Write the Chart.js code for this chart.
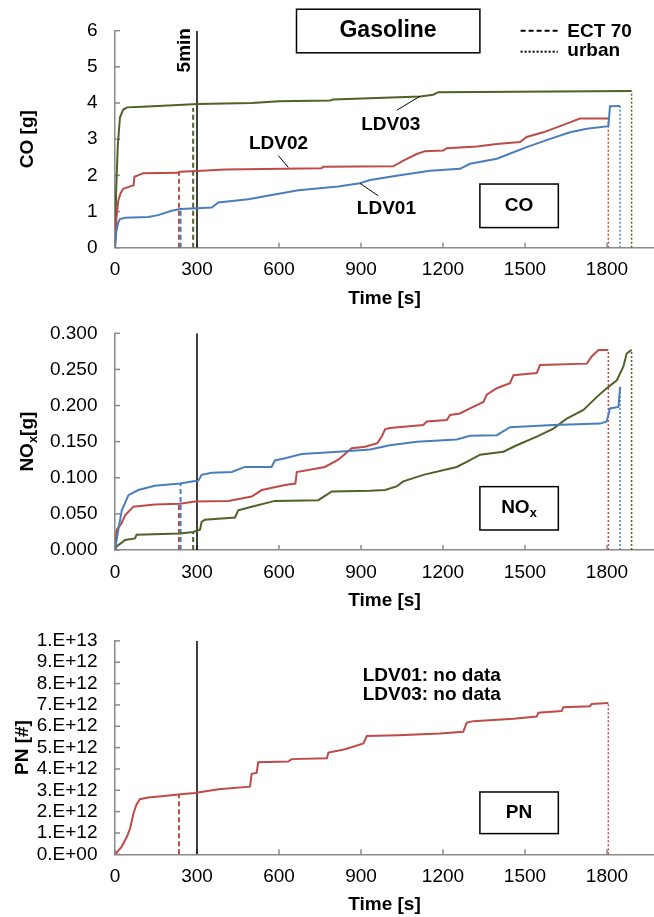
<!DOCTYPE html>
<html><head><meta charset="utf-8">
<script src="https://cdn.jsdelivr.net/npm/chart.js@4"></script>
<style>
html,body{margin:0;padding:0;background:#fff;}
#wrap{position:relative;width:654px;height:917px;overflow:hidden;background:#fff;}
canvas{position:absolute;left:0;}
</style></head><body>
<div id="wrap">
<canvas id="c1" width="654" height="310" style="top:0px"></canvas>
<canvas id="c2" width="654" height="311" style="top:302px"></canvas>
<canvas id="c3" width="654" height="305" style="top:612px"></canvas>
</div>
<script>
// ---------------- data ----------------
const vehicles = ['LDV01', 'LDV02', 'LDV03'];
const timeTicks = [0, 300, 600, 900, 1200, 1500, 1800];
const coTicks = [0, 1, 2, 3, 4, 5, 6];
const noxTicks = [0, 0.05, 0.10, 0.15, 0.20, 0.25, 0.30];
const pnTicks = [0, 1e12, 2e12, 3e12, 4e12, 5e12, 6e12, 7e12, 8e12, 9e12, 1e13];
const fiveMin = 300;
const ectTime = [240, 234, 286];
const coAtEct = [1.07, 2.10, 3.86];
const noxAtEct = [0.092, 0.064, 0.024];
const pnAtEct = [null, 2.8e12, null];

const coLDV01 = [[0,0],[5,0.45],[12,0.7],[18,0.79],[37,0.83],[122,0.85],[158,0.9],[207,1.02],[238,1.07],[300,1.09],[354,1.11],[378,1.25],[488,1.34],[573,1.46],[671,1.59],[817,1.69],[896,1.78],[933,1.87],[1030,1.99],[1152,2.13],[1262,2.18],[1299,2.32],[1397,2.46],[1458,2.64],[1506,2.78],[1592,3.01],[1665,3.19],[1726,3.29],[1805,3.36],[1811,3.91],[1848,3.92]];
const coLDV02 = [[0,0],[5,0.8],[12,1.3],[20,1.5],[30,1.63],[61,1.71],[68,1.72],[71,1.96],[104,2.06],[230,2.07],[238,2.1],[300,2.12],[402,2.16],[756,2.2],[761,2.24],[1018,2.25],[1055,2.41],[1104,2.59],[1134,2.67],[1201,2.69],[1214,2.75],[1324,2.80],[1397,2.87],[1482,2.92],[1506,3.06],[1567,3.19],[1653,3.43],[1701,3.57],[1805,3.57]];
const coLDV03 = [[0,0],[4,1.5],[10,2.8],[18,3.6],[30,3.82],[45,3.88],[100,3.9],[250,3.95],[300,3.97],[500,4.0],[600,4.05],[787,4.07],[798,4.1],[1116,4.18],[1164,4.23],[1183,4.30],[1890,4.33]];

const noxLDV01 = [[0,0],[12,0.028],[25,0.055],[49,0.076],[85,0.083],[146,0.089],[238,0.092],[293,0.0955],[305,0.096],[317,0.104],[354,0.107],[427,0.108],[476,0.115],[573,0.115],[585,0.124],[622,0.127],[683,0.133],[817,0.136],[933,0.139],[1006,0.145],[1104,0.150],[1250,0.153],[1299,0.158],[1397,0.159],[1445,0.170],[1604,0.173],[1775,0.175],[1799,0.178],[1811,0.196],[1842,0.198],[1848,0.226]];
const noxLDV02 = [[0,0],[6,0.028],[24,0.037],[37,0.048],[67,0.060],[146,0.063],[238,0.064],[293,0.067],[415,0.068],[500,0.074],[537,0.083],[622,0.09],[660,0.092],[665,0.108],[768,0.115],[817,0.125],[866,0.141],[915,0.143],[960,0.148],[976,0.157],[988,0.167],[1006,0.169],[1128,0.173],[1141,0.178],[1214,0.180],[1226,0.187],[1262,0.189],[1299,0.196],[1348,0.205],[1360,0.215],[1397,0.224],[1445,0.231],[1458,0.242],[1543,0.245],[1555,0.256],[1726,0.258],[1744,0.268],[1769,0.277],[1805,0.277]];
const noxLDV03 = [[0,0],[6,0.005],[37,0.014],[73,0.016],[79,0.021],[238,0.023],[286,0.025],[311,0.028],[317,0.039],[329,0.042],[439,0.045],[451,0.055],[500,0.06],[585,0.068],[744,0.069],[793,0.081],[933,0.082],[988,0.083],[1030,0.088],[1055,0.095],[1128,0.104],[1250,0.115],[1287,0.122],[1336,0.132],[1421,0.136],[1470,0.145],[1543,0.157],[1604,0.168],[1653,0.182],[1714,0.194],[1763,0.212],[1799,0.224],[1836,0.235],[1860,0.254],[1872,0.272],[1890,0.277]];

const pnLDV02 = [[0,0],[24,0.35e12],[43,0.81e12],[55,1.2e12],[67,1.89e12],[79,2.35e12],[91,2.58e12],[122,2.66e12],[207,2.77e12],[238,2.81e12],[293,2.87e12],[378,3.05e12],[494,3.17e12],[500,3.77e12],[518,3.81e12],[524,4.31e12],[634,4.35e12],[646,4.46e12],[775,4.50e12],[781,4.77e12],[842,4.92e12],[909,5.2e12],[921,5.54e12],[1037,5.58e12],[1189,5.66e12],[1274,5.74e12],[1287,6.17e12],[1311,6.24e12],[1458,6.35e12],[1543,6.46e12],[1549,6.63e12],[1634,6.71e12],[1640,6.89e12],[1738,6.94e12],[1744,7.04e12],[1805,7.09e12]];

// ---------------- styles ----------------
const FONT = '"Liberation Sans", Arial, sans-serif';
const AXIS = '#8a8a8a';
const COLORS = ['#4A7EBB', '#BE4B48', '#4F6228'];
const X_MAX = 1972;
Chart.defaults.font.family = FONT;
Chart.defaults.color = '#000';

function drawRich(ctx, parts, x, y, size) {
  const widths = parts.map(p => { ctx.font = 'bold ' + (p.sub ? size * 0.68 : size) + 'px ' + FONT; return ctx.measureText(p.t).width; });
  const total = widths.reduce((a, b) => a + b, 0);
  let cx = x - total / 2;
  parts.forEach((p, i) => {
    ctx.font = 'bold ' + (p.sub ? size * 0.68 : size) + 'px ' + FONT;
    ctx.textAlign = 'left'; ctx.textBaseline = 'middle';
    ctx.fillText(p.t, cx, y + (p.sub ? size * 0.3 : 0));
    cx += widths[i];
  });
}

const annot = {
  id: 'annot',
  beforeDatasetsDraw(chart) {
    const ctx = chart.ctx, xs = chart.scales.x, ys = chart.scales.y, ca = chart.chartArea;
    ctx.save();
    ctx.strokeStyle = AXIS; ctx.lineWidth = 1.5;
    xs.ticks.forEach(t => { const p = xs.getPixelForValue(t.value); ctx.beginPath(); ctx.moveTo(p, ca.bottom); ctx.lineTo(p, ca.bottom - 5); ctx.stroke(); });
    ys.ticks.forEach(t => { const p = ys.getPixelForValue(t.value); ctx.beginPath(); ctx.moveTo(ca.left, p); ctx.lineTo(ca.left + 5, p); ctx.stroke(); });
    ctx.restore();
  },
  afterDraw(chart, args, opts) {
    const ctx = chart.ctx, xs = chart.scales.x, ys = chart.scales.y, ca = chart.chartArea;
    const X = v => xs.getPixelForValue(v), Y = v => ys.getPixelForValue(v);
    ctx.save();
    ctx.fillStyle = '#000';
    (opts.items || []).forEach(it => {
      const size = it.size || 19;
      if (it.type === 'box') {
        ctx.strokeStyle = '#000'; ctx.lineWidth = 1.5; ctx.setLineDash([]);
        ctx.strokeRect(X(it.x0), Y(it.y1), X(it.x1) - X(it.x0), Y(it.y0) - Y(it.y1));
      } else if (it.type === 'line') {
        ctx.strokeStyle = it.color || '#000'; ctx.lineWidth = it.width || 1; ctx.setLineDash(it.dash || []);
        ctx.beginPath(); ctx.moveTo(X(it.x0), Y(it.y0)); ctx.lineTo(X(it.x1), Y(it.y1)); ctx.stroke();
        ctx.setLineDash([]);
      } else if (it.type === 'text') {
        ctx.font = 'bold ' + size + 'px ' + FONT;
        ctx.textBaseline = 'middle';
        if (it.rotate) {
          ctx.save(); ctx.translate(X(it.x), Y(it.y)); ctx.rotate(-Math.PI / 2);
          ctx.textAlign = 'center'; ctx.fillText(it.text, 0, 0); ctx.restore();
        } else {
          ctx.textAlign = it.align || 'center';
          ctx.fillText(it.text, X(it.x), Y(it.y));
        }
      } else if (it.type === 'rich') {
        drawRich(ctx, it.parts, X(it.x), Y(it.y), size);
      } else if (it.type === 'yrich') {
        ctx.save(); ctx.translate(it.px, (ca.top + ca.bottom) / 2); ctx.rotate(-Math.PI / 2);
        drawRich(ctx, it.parts, 0, 0, size); ctx.restore();
      }
    });
    ctx.restore();
  }
};

function seriesDS(pts, i) {
  return { label: vehicles[i], data: pts.map(p => ({ x: p[0], y: p[1] })), borderColor: COLORS[i], borderWidth: 2, pointRadius: 0, fill: false, order: 1 };
}
function vline(t, v, color, dash, width, label) {
  return { label, data: [{ x: t, y: 0 }, { x: t, y: v }], borderColor: color, borderWidth: width, borderDash: dash, pointRadius: 0, fill: false, order: 2 };
}
function buildDatasets(series, atEct, yMax) {
  const ds = [vline(fiveMin, yMax, '#000', [], 1.5, '5min')];
  series.forEach((s, i) => { if (s) ds.push(seriesDS(s, i)); });
  series.forEach((s, i) => { if (s && atEct[i] != null) ds.push(vline(ectTime[i], atEct[i], COLORS[i], [5, 3], 2, 'ECT 70 ' + vehicles[i])); });
  series.forEach((s, i) => { if (s) { const last = s[s.length - 1]; ds.push(vline(last[0], last[1], COLORS[i], [2, 2], 1.5, 'urban ' + vehicles[i])); } });
  return ds;
}

function makeChart(id, cfg) {
  return new Chart(document.getElementById(id), {
    type: 'line',
    data: { datasets: cfg.datasets },
    options: {
      responsive: false, animation: false, devicePixelRatio: 1,
      layout: { padding: { top: cfg.padTop, bottom: cfg.padBottom, left: 0, right: 0 } },
      plugins: { legend: { display: false }, tooltip: { enabled: false }, annot: { items: cfg.items } },
      elements: { point: { radius: 0 }, line: { tension: 0 } },
      scales: {
        x: {
          type: 'linear', min: 0, max: X_MAX,
          afterBuildTicks: s => { s.ticks = timeTicks.map(v => ({ value: v })); },
          grid: { display: false, drawTicks: false },
          border: { display: true, color: AXIS, width: 1.5 },
          ticks: { padding: 11, font: { size: 19 }, color: '#000', maxRotation: 0, autoSkip: false, callback: v => String(v) },
          title: { display: true, text: 'Time [s]', font: { size: 19, weight: 'bold' }, padding: { top: 0, bottom: 0 }, color: '#000' },
          afterFit: s => { s.height = 62; }
        },
        y: {
          type: 'linear', min: 0, max: cfg.yMax,
          afterBuildTicks: s => { s.ticks = cfg.yTicks.map(v => ({ value: v })); },
          grid: { display: false, drawTicks: false },
          border: { display: true, color: AXIS, width: 1.5 },
          ticks: { padding: 17.5, font: { size: 19 }, color: '#000', autoSkip: false, callback: cfg.fmt },
          title: cfg.yTitle,
          afterFit: s => { s.width = 115; }
        }
      }
    },
    plugins: [annot]
  });
}

// ---- CO ----
makeChart('c1', {
  padTop: 30.7, padBottom: 0.3, yMax: 6, yTicks: coTicks,
  fmt: v => String(v),
  yTitle: { display: true, text: 'CO [g]', font: { size: 19, weight: 'bold' }, padding: { top: 16.6, bottom: 0 }, color: '#000' },
  datasets: buildDatasets([coLDV01, coLDV02, coLDV03], coAtEct, 6),
  items: [
    { type: 'box', x0: 664, x1: 1335, y0: 5.389, y1: 6.594 },
    { type: 'text', x: 999, y: 5.99, text: 'Gasoline', size: 23 },
    { type: 'line', x0: 1484, x1: 1620, y0: 6.0, y1: 6.0, dash: [5, 3], width: 2 },
    { type: 'text', x: 1655, y: 5.96, text: 'ECT 70', align: 'left' },
    { type: 'line', x0: 1484, x1: 1620, y0: 5.42, y1: 5.42, dash: [2, 2], width: 2 },
    { type: 'text', x: 1655, y: 5.44, text: 'urban', align: 'left' },
    { type: 'box', x0: 1335, x1: 1622, y0: 0.556, y1: 1.76 },
    { type: 'text', x: 1478, y: 1.16, text: 'CO' },
    { type: 'text', x: 598, y: 2.88, text: 'LDV02' },
    { type: 'line', x0: 597, y0: 2.55, x1: 634, y1: 2.22, width: 1 },
    { type: 'text', x: 993, y: 1.067, text: 'LDV01' },
    { type: 'line', x0: 896, y0: 1.78, x1: 963, y1: 1.436, width: 1 },
    { type: 'text', x: 1009, y: 3.4, text: 'LDV03' },
    { type: 'line', x0: 1031, y0: 3.80, x1: 1116, y1: 4.19, width: 1 },
    { type: 'text', x: 254, y: 5.46, text: '5min', rotate: true }
  ]
});

// ---- NOx ----
makeChart('c2', {
  padTop: 31.3, padBottom: 1, yMax: 0.3, yTicks: noxTicks,
  fmt: v => Number(v).toFixed(3),
  yTitle: { display: false, text: 'NOx[g]' },
  datasets: buildDatasets([noxLDV01, noxLDV02, noxLDV03], noxAtEct, 0.3),
  items: [
    { type: 'box', x0: 1335, x1: 1622, y0: 0.0277, y1: 0.0877 },
    { type: 'rich', x: 1478, y: 0.058, parts: [{ t: 'NO' }, { t: 'x', sub: true }] },
    { type: 'yrich', px: 28, parts: [{ t: 'NO' }, { t: 'x', sub: true }, { t: '[g]' }] }
  ]
});

// ---- PN ----
makeChart('c3', {
  padTop: 25.7, padBottom: 0.7, yMax: 1e13, yTicks: pnTicks,
  fmt: v => { if (v === 0) return '0.E+00'; const e = Math.floor(Math.log10(v) + 1e-9); const m = Math.round(v / Math.pow(10, e)); return m + '.E+' + e; },
  yTitle: { display: true, text: 'PN [#]', font: { size: 19, weight: 'bold' }, padding: { top: 11.6, bottom: 0 }, color: '#000' },
  datasets: buildDatasets([null, pnLDV02, null], pnAtEct, 1e13),
  items: [
    { type: 'box', x0: 1335, x1: 1622, y0: 0.97e12, y1: 2.92e12 },
    { type: 'text', x: 1478, y: 1.95e12, text: 'PN' },
    { type: 'text', x: 906, y: 8.38e12, text: 'LDV01: no data', align: 'left' },
    { type: 'text', x: 906, y: 7.46e12, text: 'LDV03: no data', align: 'left' }
  ]
});
</script>
</body></html>
